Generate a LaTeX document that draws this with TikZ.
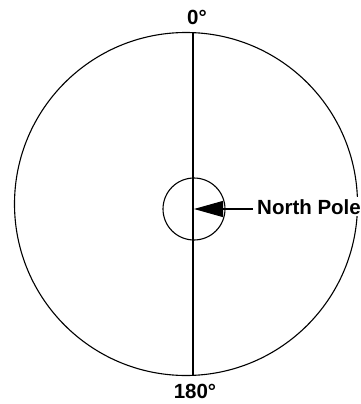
\documentclass[tikz,border=0pt]{standalone}
\usepackage{fontspec}
\setmainfont{Liberation Sans}
\usetikzlibrary{arrows.meta}
\begin{document}
\begin{tikzpicture}[x=1pt,y=-1pt,
  lbl/.style={font=\bfseries\fontsize{20.5}{22}\selectfont, inner sep=1pt},
  ring/.style={draw=black, line width=1.1pt}]
\useasboundingbox (0,0) rectangle (360,404);
\coordinate (C) at (186,204);
\draw[ring] (C) circle[radius=171.5];
\coordinate (top) at (193,32.7);
\coordinate (bot) at (193,375.3);
\draw[line width=1.1pt] (top) -- (bot);
\node[ring, circle, minimum size=62pt, inner sep=0pt] (pole) at (194,209) {};
\coordinate (tip) at (194,209);
\node[lbl, anchor=base west, fill=white, inner sep=2pt] (np) at (255,214) {North Pole};
\coordinate (tail) at (253,209);
\draw[line width=1.1pt, -{Triangle[length=29pt,width=16pt]}] (tail) -- (tip);
\node[lbl, anchor=base] (zero) at (197,25) {0°};
\node[lbl, anchor=base] (oneeighty) at (195,398) {180°};
\end{tikzpicture}
\end{document}
